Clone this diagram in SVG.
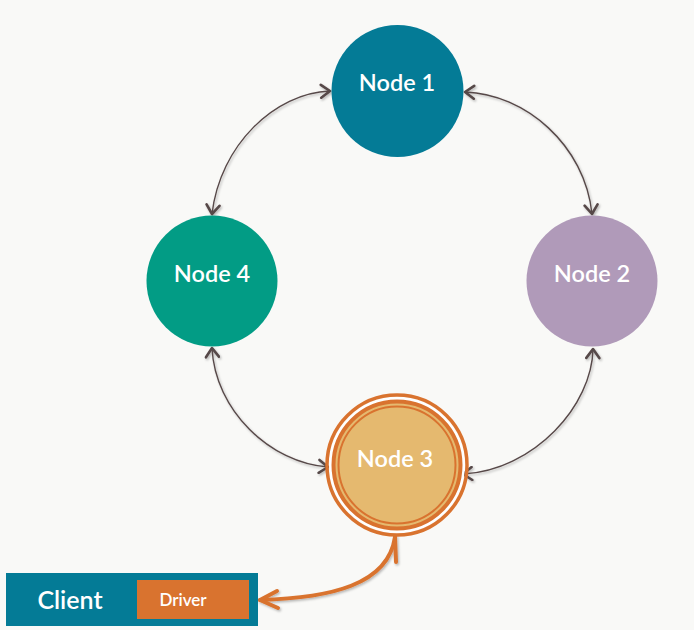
<svg xmlns="http://www.w3.org/2000/svg" width="694" height="630" viewBox="0 0 694 630">
  <defs>
    <style>
      .label { font-family: Lato, "Open Sans", "Liberation Sans", sans-serif; fill: #ffffff; text-anchor: middle; font-weight: 600; }
      .node-text { font-size: 23.5px; }
      .link { fill: none; stroke: #574848; stroke-width: 1.4; }
      .head { fill: none; stroke: #574848; stroke-width: 2.6; stroke-linecap: round; stroke-linejoin: round; }
      .ring { fill: none; stroke: #D9732F; }
      .client-link { fill: none; stroke: #D9732F; stroke-width: 4; stroke-linecap: round; stroke-linejoin: round; }
    </style>
    <marker id="vee" viewBox="-12 -8 14 16" markerWidth="14" markerHeight="16" refX="0" refY="0" orient="auto-start-reverse" markerUnits="userSpaceOnUse">
      <path d="M -9,-6.5 L 0,0 L -9,6.5" class="head"/>
    </marker>
    <filter id="shadow" x="-10%" y="-10%" width="130%" height="130%">
      <feDropShadow dx="1.2" dy="1.5" stdDeviation="1" flood-color="#000" flood-opacity="0.28"/>
    </filter>
  </defs>

  <rect width="694" height="630" fill="#F9F9F7"/>

  <!-- ring connectors between the four nodes -->
  <g id="connectors" filter="url(#shadow)">
    <path class="link" d="M 330,91 C 275,93 220,145 212,214" marker-start="url(#vee)" marker-end="url(#vee)"/>
    <path class="link" d="M 465,92 C 525,94 585,145 592,214" marker-start="url(#vee)" marker-end="url(#vee)"/>
    <path class="link" d="M 212,348 C 215,410 270,463 328,467" marker-start="url(#vee)" marker-end="url(#vee)"/>
    <path class="link" d="M 593,349 C 592,405 535,470 463,474" marker-start="url(#vee)" marker-end="url(#vee)"/>
    <!-- client to coordinator node -->
    <path class="client-link" d="M 260,600 C 330,598 388,585 395,537"/>
    <path class="client-link" d="M 395,537 L 396,562"/>
    <path class="client-link" d="M 277,591 L 260,600 L 278,608"/>
  </g>

  <g id="node1">
    <circle cx="397.5" cy="91" r="66" fill="#047B96"/>
    <text class="label node-text" x="397" y="91">Node 1</text>
  </g>

  <g id="node2">
    <circle cx="592" cy="281" r="65.5" fill="#B09AB9"/>
    <text class="label node-text" x="592" y="282">Node 2</text>
  </g>

  <g id="node4">
    <circle cx="212" cy="281" r="65.5" fill="#029C85"/>
    <text class="label node-text" x="212" y="282">Node 4</text>
  </g>

  <g id="node3">
    <circle cx="397" cy="465" r="68" fill="#FFFFFF"/>
    <circle cx="397" cy="465" r="63" fill="#E5B96F"/>
    <circle class="ring" cx="397" cy="465" r="70" stroke-width="3.5"/>
    <circle class="ring" cx="397" cy="465" r="63.5" stroke-width="4"/>
    <circle class="ring" cx="397" cy="465" r="58.5" stroke-width="2"/>
    <text class="label node-text" x="395" y="467">Node 3</text>
  </g>

  <g id="client">
    <rect x="6" y="573" width="252" height="53" fill="#047B96"/>
    <rect x="137" y="580" width="112" height="39" fill="#D9732F"/>
    <text class="label" x="70" y="609" font-size="25" font-weight="500">Client</text>
    <text class="label" x="183" y="606" font-size="17">Driver</text>
  </g>
</svg>
